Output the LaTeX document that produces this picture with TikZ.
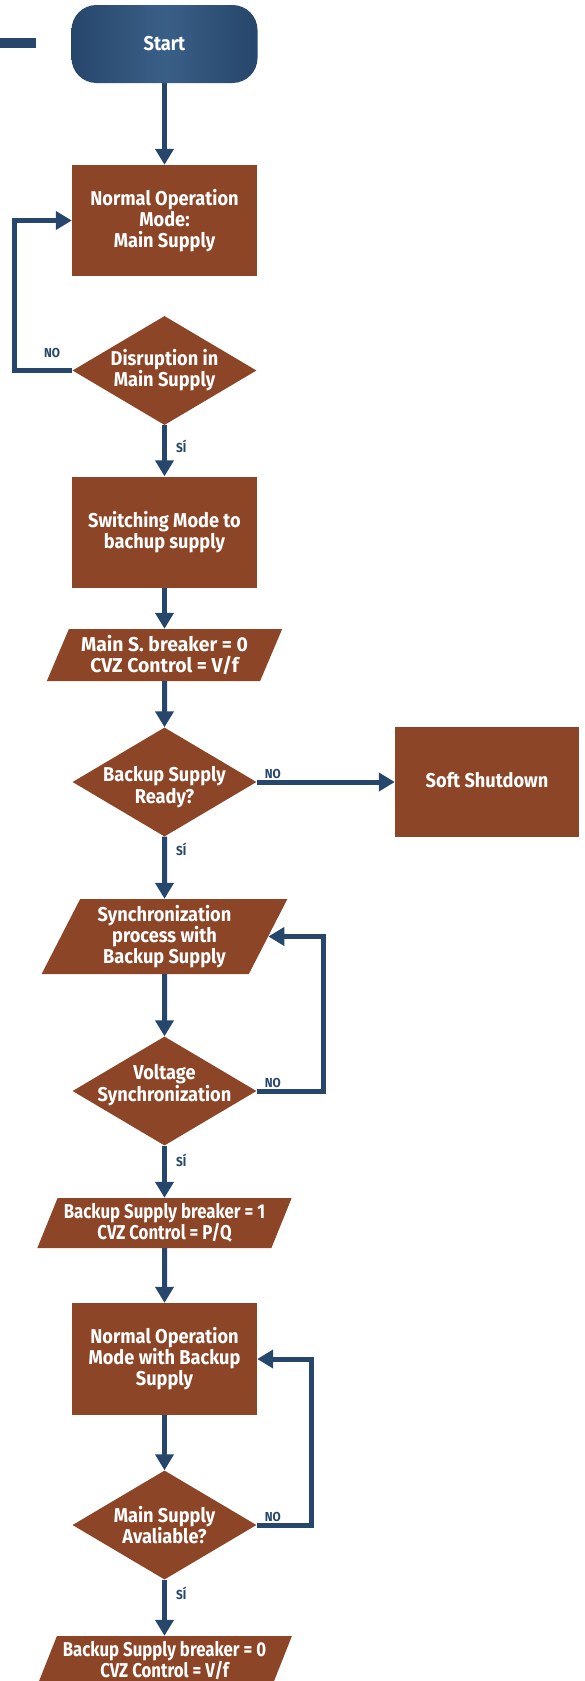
\documentclass[tikz,border=0pt]{standalone}
\usepackage{fontspec}
\setmainfont{Fira Sans}[FakeStretch=0.91]
\newfontfamily\wideiofont{Fira Sans}[FakeStretch=0.97]
\newfontfamily\narrowiofont{Fira Sans}[FakeStretch=0.84]
\usetikzlibrary{shapes.geometric,arrows.meta}

\definecolor{flowbrown}{HTML}{8D4527}
\definecolor{flowblue}{HTML}{27466C}
\definecolor{startlight}{HTML}{3A5F87}

\newcommand{\boxfont}{\fontsize{20}{21}\selectfont\bfseries}
\newcommand{\lblfont}{\fontsize{13}{13}\selectfont\bfseries}
\newcommand{\movedtext}[2]{\raisebox{#1}[\height][\depth]{\begin{tabular}{@{}c@{}}#2\end{tabular}}}

\tikzset{
  startnode/.style={rectangle, rounded corners=25pt, minimum width=186pt, minimum height=78pt,
    left color=flowblue, right color=flowblue, middle color=startlight, text=white, font=\boxfont},
  procbox/.style={rectangle, fill=flowbrown, minimum width=185pt, minimum height=111pt,
    text=white, align=center, font=\boxfont},
  decbox/.style={diamond, fill=flowbrown, aspect=1.67, inner sep=0pt, minimum width=184pt,
    minimum height=109pt, text=white, align=center, font=\boxfont},
  iobox/.style={trapezium, trapezium left angle=64, trapezium right angle=116,
    trapezium stretches=true, fill=flowbrown, minimum height=52pt, inner sep=0pt,
    text=white, align=center, font=\boxfont},
  flow/.style={draw=flowblue, line width=5pt, -{Triangle[width=18pt,length=16pt]}},
  lbl/.style={text=flowblue, font=\lblfont, inner sep=0pt},
}

\begin{document}
\begin{tikzpicture}[x=1pt, y=-1pt]
\clip (0,0) rectangle (584,1681);
%%   kw   (name)   (x, y)   {text}
    \fill[flowblue] (0,38) rectangle (36,48);
    \node[startnode] (start) at (164.5, 44) {Start};
    \node[procbox] (normal) at (164.5, 220.5) {Normal Operation\\Mode:\\Main Supply};
    \node[decbox] (dec1) at (164.5, 370.5) {Disruption in\\Main Supply};
    \node[procbox] (switch) at (164.5, 532) {Switching Mode to\\bachup supply};
    \node[iobox, minimum width=236pt, font=\boxfont\wideiofont] (io1) at (164.5, 655) {Main S. breaker = 0\\CVZ Control = V/f};
    \node[decbox, inner xsep=-4pt, inner ysep=-6pt] (dec2) at (164.5, 782) {\movedtext{-6pt}{Backup Supply\\Ready?}};
    \node[procbox, minimum width=184pt, minimum height=110pt] (soft) at (487, 782) {\raisebox{4pt}{Soft Shutdown}};
    \node[iobox, minimum width=246pt, minimum height=75pt] (io2) at (164.5, 936.5) {Synchronization\\process with\\Backup Supply};
    \node[decbox, inner xsep=-9pt, inner ysep=-6pt] (dec3) at (164.5, 1091) {\movedtext{5pt}{Voltage\\Synchronization}};
    \node[iobox, minimum width=255pt, minimum height=50pt, font=\boxfont\narrowiofont] (io3) at (164.5, 1223) {Backup Supply breaker = 1\\CVZ Control = P/Q};
    \node[procbox, minimum height=112pt] (backup) at (164.5, 1359) {Normal Operation\\Mode with Backup\\Supply};
    \node[decbox] (dec4) at (164.5, 1525) {Main Supply\\Avaliable?};
    \node[iobox, minimum width=255pt, minimum height=50pt, font=\boxfont\narrowiofont] (io4) at (164.5, 1661) {Backup Supply breaker = 0\\CVZ Control = V/f};

    \draw[flow] (start) -- (normal);
    \draw[flow] (dec1) -- (switch);
    \draw[flow] (dec1.west) -- ++(-57.5,0) |- (normal.west);
    \draw[flow] (switch) -- (io1);
    \draw[flow] (io1) -- (dec2);
    \draw[flow] (dec2.east) -- (soft.west);
    \draw[flow] (dec2) -- (io2);
    \draw[flow] (io2) -- (dec3);
    \draw[flow] (dec3.east) -- ++(67,0) |- (io2.east);
    \draw[flow] (dec3) -- (io3);
    \draw[flow] (io3) -- (backup);
    \draw[flow] (backup) -- (dec4);
    \draw[flow] (dec4.east) -- ++(54.5,0) |- (backup.east);
    \draw[flow] (dec4) -- (io4);

    \node[lbl, anchor=south west] (no1) at ([shift={(-28.5,-12.5)}]dec1.west) {NO};
    \node[lbl, anchor=north west] (si1) at ([shift={(11.5,15)}]dec1.south) {SÍ};
    \node[lbl, anchor=south west] (no2) at ([shift={(8,-3)}]dec2.east) {NO};
    \node[lbl, anchor=north west] (si2) at ([shift={(11.5,6)}]dec2.south) {SÍ};
    \node[lbl, anchor=south west] (no3) at ([shift={(8,-3)}]dec3.east) {NO};
    \node[lbl, anchor=north west] (si3) at ([shift={(11.5,8)}]dec3.south) {SÍ};
    \node[lbl, anchor=south west] (no4) at ([shift={(8,-3)}]dec4.east) {NO};
    \node[lbl, anchor=north west] (si4) at ([shift={(11.5,7)}]dec4.south) {SÍ};
\end{tikzpicture}
\end{document}
